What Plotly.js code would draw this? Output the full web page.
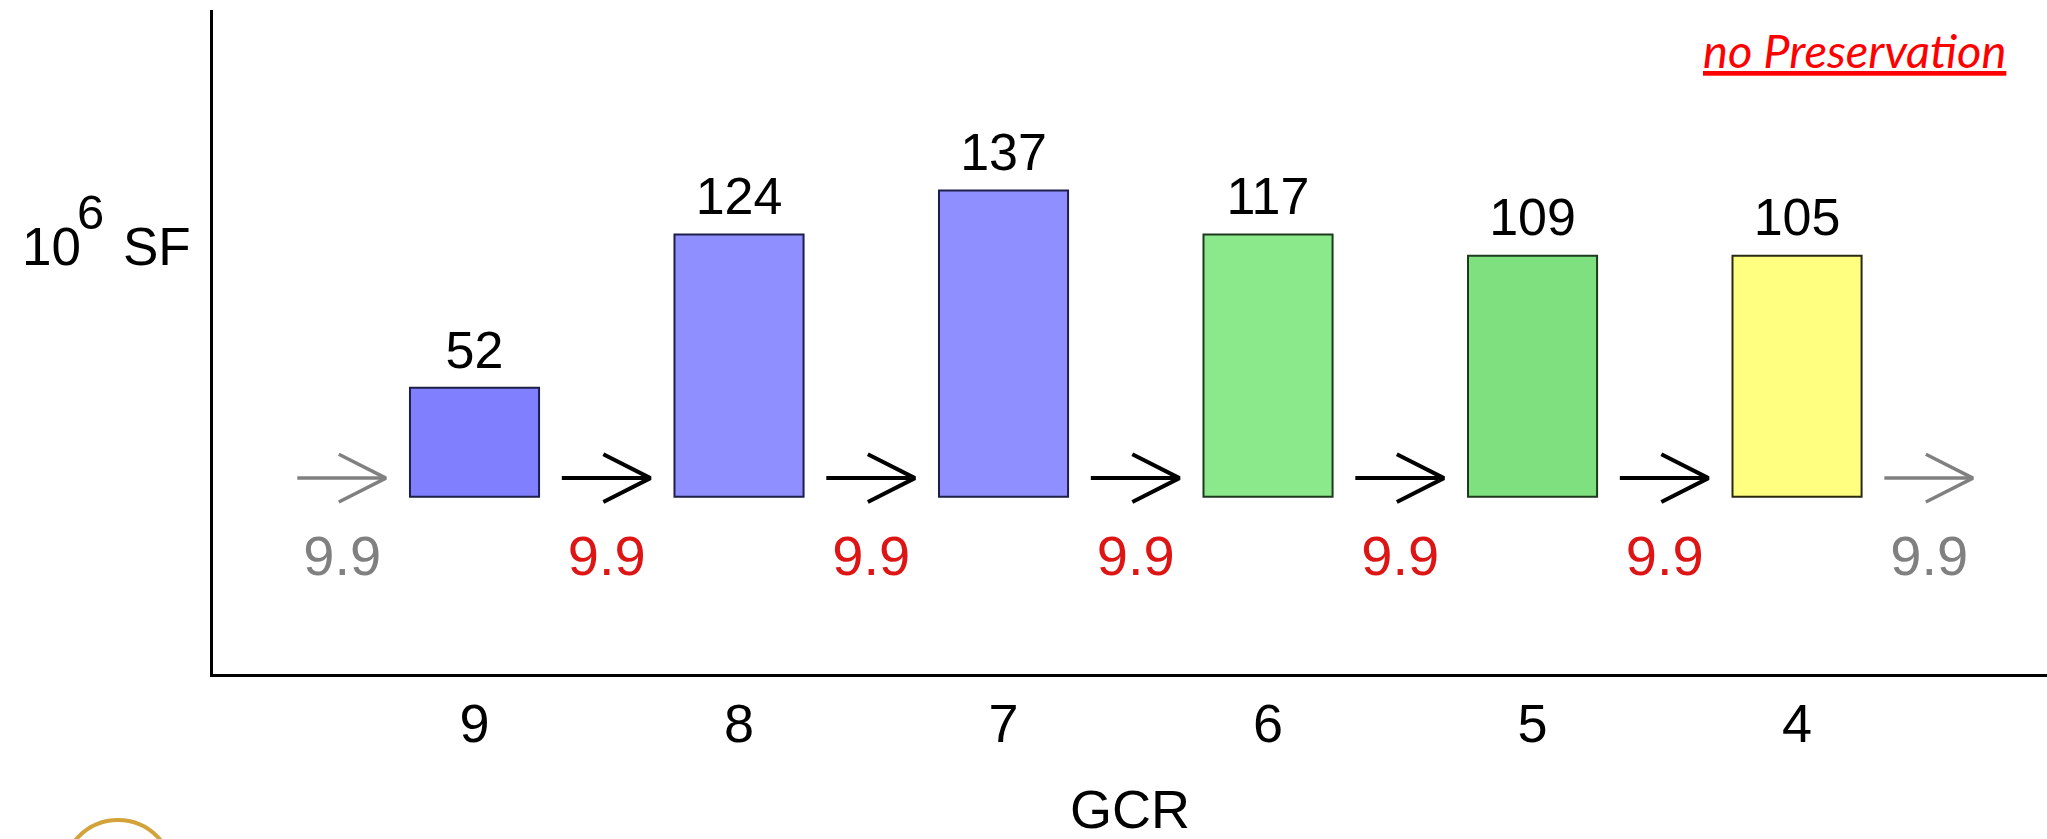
<!DOCTYPE html>
<html>
<head>
<meta charset="utf-8">
<script src="https://cdn.plot.ly/plotly-3.0.1.min.js"></script>
<style>html,body{margin:0;padding:0;background:#fff;}#chart{width:2047px;height:839px;}</style>
</head>
<body>
<div id="chart"></div>
<script>
// ---- data ----
const categories = ['9', '8', '7', '6', '5', '4'];          // GCR
const barLabels = [52, 124, 137, 117, 109, 105];           // 10^6 SF
// drawn (schematic) bar heights in plot units, floating on a common base
const barBase = 26.7;
const barHeights = [16.4, 39.5, 46.1, 39.5, 36.3, 36.3];
const barColors = ['#8080ff', '#8f8fff', '#8f8fff', '#8be88b', '#7fe07f', '#ffff80'];
const barEdges = ['#1e1e4a', '#1e1e4a', '#1e1e4a', '#1e3a1e', '#1e3a1e', '#2a2a10'];
// flows between the bars (one before the first, one after the last)
const flowLabels = ['9.9', '9.9', '9.9', '9.9', '9.9', '9.9', '9.9'];
const flowKinds = ['outer', 'inner', 'inner', 'inner', 'inner', 'inner', 'outer'];

// ---- styling constants ----
const GRAY = '#808080', RED = '#dd1515';
const FONT = 'Liberation Sans, Arial, Helvetica, sans-serif';
const arrowY = 29.5, flowLabelY = 17.0, labelGap = 5.0;
const halfBack = 0.17, halfFwd = 0.165, headW = 0.178, headH = 3.6;

const idx = categories.map((_, i) => i);

const bars = {
  type: 'bar', x: idx, y: barHeights, base: barBase, width: 0.488,
  marker: {color: barColors, line: {color: barEdges, width: 2}},
  hoverinfo: 'skip', showlegend: false
};

const valueText = {
  type: 'scatter', mode: 'text', x: idx,
  y: barHeights.map(h => barBase + h + labelGap),
  text: barLabels.map(String),
  textposition: 'middle center',
  textfont: {family: FONT, size: 52, color: '#000'},
  hoverinfo: 'skip', showlegend: false
};

function arrowTrace(kind, color, width) {
  const xs = [], ys = [];
  flowKinds.forEach((k, j) => {
    if (k !== kind) return;
    const mid = j - 0.5;
    const x0 = mid - halfBack, x1 = mid + halfFwd;
    xs.push(x0, x1, null, x1 - headW, x1, x1 - headW, null);
    ys.push(arrowY, arrowY, null, arrowY + headH, arrowY, arrowY - headH, null);
  });
  return {type: 'scatter', mode: 'lines', x: xs, y: ys,
    line: {color: color, width: width}, hoverinfo: 'skip', showlegend: false};
}

const flowText = {
  type: 'scatter', mode: 'text',
  x: flowLabels.map((_, j) => j - 0.5),
  y: flowLabels.map(() => flowLabelY),
  text: flowLabels,
  textposition: 'middle center',
  textfont: {family: FONT, size: 56, color: flowKinds.map(k => k === 'outer' ? GRAY : RED)},
  hoverinfo: 'skip', showlegend: false
};

// pixel helpers for free text (plot area: x 213..2047, y 10..674)
const L = 213, R = 2047, T = 10, B = 674;
const px = v => (v - L) / (R - L);
const py = v => (B - v) / (B - T);

const layout = {
  width: 2047, height: 839,
  margin: {l: L, r: 2047 - R, t: T, b: 839 - B},
  paper_bgcolor: '#fff', plot_bgcolor: '#fff',
  font: {family: FONT, color: '#000'},
  showlegend: false,
  xaxis: {
    range: [-0.9887, 5.945], tickvals: idx, ticktext: categories,
    tickfont: {family: FONT, size: 54, color: '#000'},
    ticks: '', showgrid: false, zeroline: false,
    showline: true, linecolor: '#000', linewidth: 3,
    title: {text: 'GCR', font: {family: FONT, size: 54, color: '#000'}, standoff: 42},
    fixedrange: true
  },
  yaxis: {
    range: [0, 100], showticklabels: false, ticks: '',
    showgrid: false, zeroline: false,
    showline: true, linecolor: '#000', linewidth: 3, fixedrange: true
  },
  annotations: [
    {xref: 'paper', yref: 'paper', x: px(20), y: py(246), xanchor: 'left', yanchor: 'middle',
     text: '10', showarrow: false, font: {family: FONT, size: 53, color: '#000'}},
    {xref: 'paper', yref: 'paper', x: px(75), y: py(212), xanchor: 'left', yanchor: 'middle',
     text: '6', showarrow: false, font: {family: FONT, size: 49, color: '#000'}},
    {xref: 'paper', yref: 'paper', x: px(121), y: py(246), xanchor: 'left', yanchor: 'middle',
     text: 'SF', showarrow: false, font: {family: FONT, size: 53, color: '#000'}},
    {xref: 'paper', yref: 'paper', x: px(2008), y: py(50), xanchor: 'right', yanchor: 'middle',
     text: 'no Preservation', showarrow: false,
     font: {family: 'Lato, Open Sans, sans-serif', size: 47, color: '#ff0000', style: 'italic', lineposition: 'under'}}
  ],
  shapes: [
    {type: 'circle', xref: 'paper', yref: 'paper', x0: px(63), x1: px(173), y0: py(820), y1: py(930),
     line: {color: '#d4a23a', width: 4}, fillcolor: 'rgba(0,0,0,0)', layer: 'above'}
  ]
};

Plotly.newPlot('chart', [bars, arrowTrace('inner', '#000', 4), arrowTrace('outer', GRAY, 3.5), valueText, flowText], layout,
  {displayModeBar: false, staticPlot: true});
</script>
</body>
</html>
